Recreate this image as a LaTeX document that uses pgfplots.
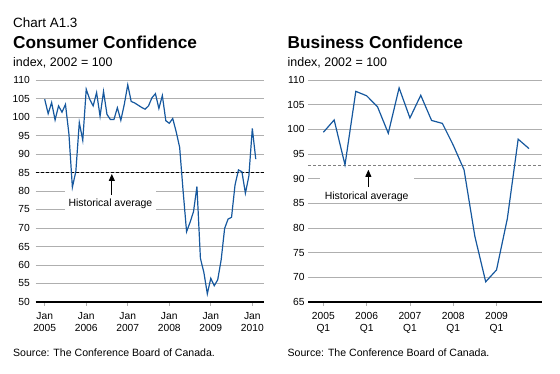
\documentclass[border=0pt]{standalone}
\usepackage{fontspec}
\setmainfont{Liberation Sans}
\usepackage{pgfplots}
\pgfplotsset{compat=1.18}
\usetikzlibrary{arrows.meta}
\definecolor{lineblue}{RGB}{22,88,158}
\definecolor{gridgray}{RGB}{175,175,175}
\pgfplotsset{
 conf/.style={
  scale only axis, height=222bp,
  ymajorgrids, grid style={gridgray, line width=0.9bp},
  axis line style={draw=none},
  ytick style={draw=none},
  xtick pos=left,
  xtick style={draw=gridgray, line width=0.8bp, yshift=-4bp},
  major tick length=4bp,
  tick label style={font=\fontsize{10.3}{11.3}\selectfont},
  /pgf/number format/assume math mode=true,
  yticklabel style={inner sep=0pt, anchor=east},
  xticklabel style={align=center, inner sep=0pt, anchor=north, yshift=-10.5bp},
  clip=false,
 },
}
\tikzset{histlab/.style={anchor=base, fill=white, inner xsep=4bp, inner ysep=0pt, text depth=3bp, font=\fontsize{10.5}{12}\selectfont}}
\begin{document}
\begin{tikzpicture}
\useasboundingbox (0,0) rectangle (560bp,374bp);
% ---------- left panel ----------
\node[anchor=base west, inner sep=0pt, font=\fontsize{13.5}{15}\selectfont] at (13bp,346bp) {Chart A1.3};
\node[anchor=base west, inner sep=0pt, font=\fontsize{17.3}{20}\selectfont\bfseries] at (13bp,325.5bp) {Consumer Confidence};
\node[anchor=base west, inner sep=0pt, font=\fontsize{12.5}{14}\selectfont] at (13bp,307.5bp) {index, 2002 = 100};
\node[anchor=base west, inner sep=0pt, font=\fontsize{10.6}{12}\selectfont] at (13bp,17.3bp) {Source: The Conference Board of Canada.};
\begin{axis}[conf, at={(35.5bp,72bp)}, anchor=south west, width=228.5bp,
  xmin=-2.66, xmax=63.38, ymin=50, ymax=110, ytick={50,55,...,110},
  yticklabel style={xshift=-5.5bp},
  xtick={0,12,24,36,48,60},
  xticklabels={Jan\\2005,Jan\\2006,Jan\\2007,Jan\\2008,Jan\\2009,Jan\\2010}]
\node[histlab, text height=18bp] at (axis cs:19,75.8) {Historical average};
\addplot[black, line width=0.7bp, dash pattern=on 3bp off 2bp] coordinates {(-2.66,85) (63.38,85)};
\addplot[lineblue, line width=1.2bp] coordinates {
(0,104.8) (1,100.9) (2,103.9) (3,99.2) (4,103.0) (5,101.3) (6,103.4) (7,95.4)
(8,81.0) (9,85.3) (10,98.5) (11,93.7) (12,107.5) (13,104.8) (14,103.0) (15,106.6)
(16,100.2) (17,106.9) (18,100.7) (19,99.3) (20,99.3) (21,102.5) (22,99.1) (23,103.4)
(24,108.7) (25,104.2) (26,103.8) (27,103.2) (28,102.6) (29,102.1) (30,103.0) (31,105.2)
(32,106.3) (33,102.3) (34,105.8) (35,99.0) (36,98.3) (37,99.6) (38,96.0) (39,91.8)
(40,80.0) (41,69.0) (42,71.5) (43,74.4) (44,81.2) (45,61.8) (46,58.0) (47,52.2)
(48,56.4) (49,54.4) (50,56.0) (51,61.4) (52,69.9) (53,72.4) (54,72.9) (55,81.6)
(56,85.7) (57,85.2) (58,79.4) (59,84.0) (60,96.9) (61,88.6)};
\draw[line width=0.8bp, -{Triangle[width=6bp,length=7bp]}] (axis cs:19.4,78.9) -- (axis cs:19.4,84.6);
\draw[black, line width=2.2bp] (rel axis cs:0,0) -- (rel axis cs:1,0);
\end{axis}
% ---------- right panel ----------
\node[anchor=base west, inner sep=0pt, font=\fontsize{17.3}{20}\selectfont\bfseries] at (287.5bp,325.5bp) {Business Confidence};
\node[anchor=base west, inner sep=0pt, font=\fontsize{12.5}{14}\selectfont] at (287.5bp,307.5bp) {index, 2002 = 100};
\node[anchor=base west, inner sep=0pt, font=\fontsize{10.6}{12}\selectfont] at (287.5bp,17.3bp) {Source: The Conference Board of Canada.};
\begin{axis}[conf, at={(308.3bp,72bp)}, anchor=south west, width=234bp,
  xmin=-1.39, xmax=20.23, ymin=65, ymax=110, ytick={65,70,...,110},
  yticklabel style={xshift=-3.5bp},
  xtick={0,4,8,12,16},
  xticklabels={2005\\Q1,2006\\Q1,2007\\Q1,2008\\Q1,2009\\Q1}]
\node[histlab, text height=22.5bp, inner xsep=5bp] at (axis cs:4.0,85.76) {Historical average};
\addplot[gray, line width=0.7bp, dash pattern=on 3bp off 2bp] coordinates {(-1.39,92.6) (20.23,92.6)};
\addplot[lineblue, line width=1.2bp] coordinates {
(0,99.4) (1,101.9) (2,92.8) (3,107.7) (4,106.8) (5,104.6) (6,99.2) (7,108.4)
(8,102.3) (9,106.9) (10,101.8) (11,101.2) (12,96.8) (13,91.8) (14,78.3) (15,69.1)
(16,71.5) (17,81.9) (18,98.0) (19,96.1)};
\draw[line width=0.8bp, -{Triangle[width=6bp,length=7bp]}] (axis cs:4.16,88.3) -- (axis cs:4.16,91.8);
\draw[black, line width=2.2bp] (rel axis cs:0,0) -- (rel axis cs:1,0);
\end{axis}
\end{tikzpicture}
\end{document}
